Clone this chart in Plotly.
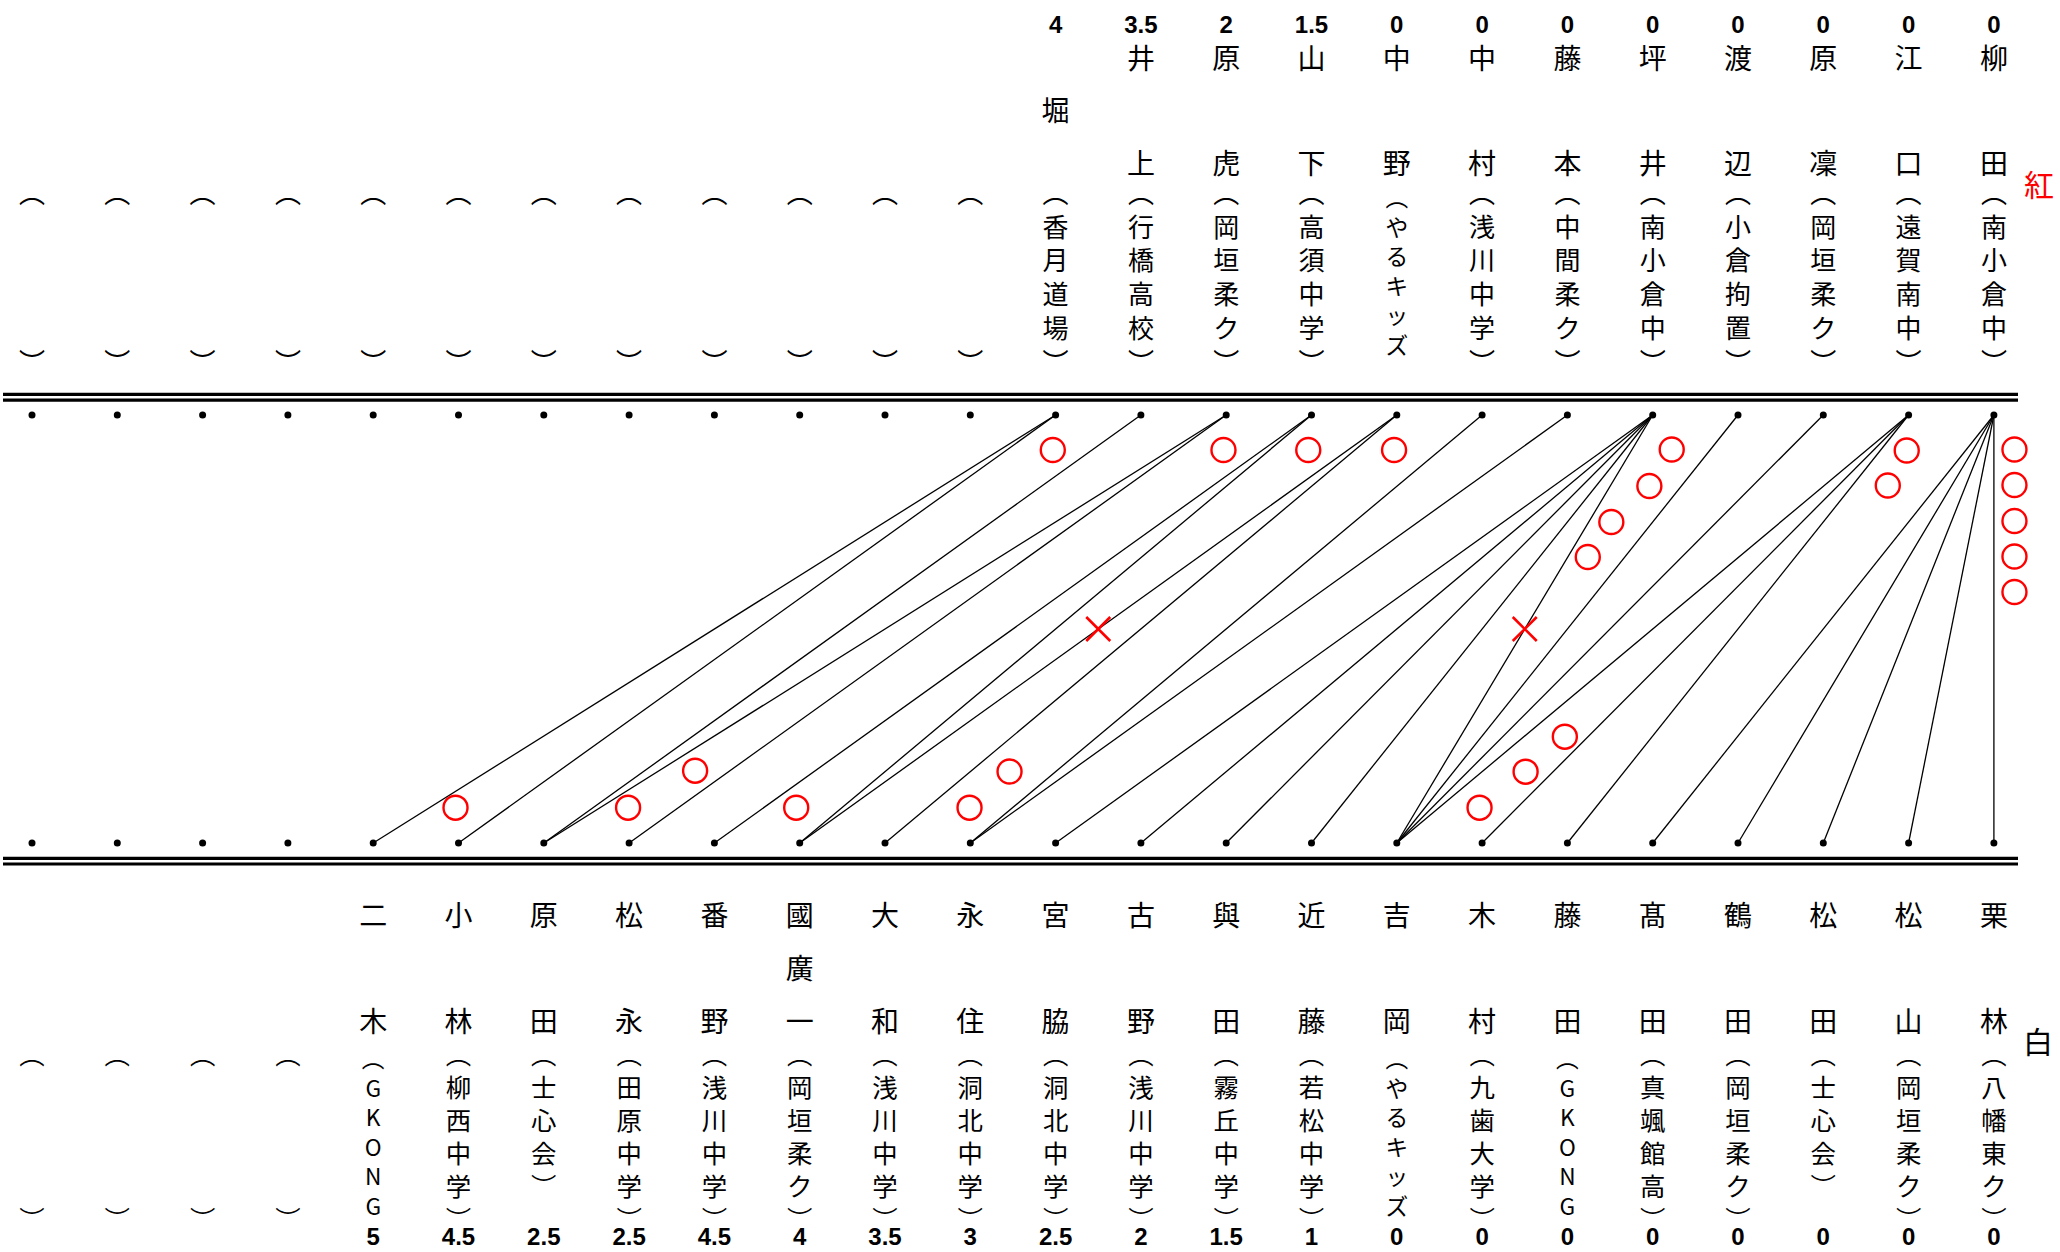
import plotly.graph_objects as go

# ---------------- data ----------------
top_names = [""] * 12 + ["堀", "井上", "原虎", "山下", "中野", "中村", "藤本", "坪井", "渡辺", "原凜", "江口", "柳田"]
top_clubs = [""] * 12 + ["香月道場", "行橋高校", "岡垣柔ク", "高須中学", "やるキッズ", "浅川中学", "中間柔ク",
                         "南小倉中", "小倉拘置", "岡垣柔ク", "遠賀南中", "南小倉中"]
top_scores = [None] * 12 + [4, 3.5, 2, 1.5, 0, 0, 0, 0, 0, 0, 0, 0]

bottom_names = [""] * 4 + ["二木", "小林", "原田", "松永", "番野", "國廣一", "大和", "永住", "宮脇", "古野", "與田",
                           "近藤", "吉岡", "木村", "藤田", "髙田", "鶴田", "松田", "松山", "栗林"]
bottom_clubs = [""] * 4 + ["GKONG", "柳西中学", "士心会", "田原中学", "浅川中学", "岡垣柔ク", "浅川中学", "洞北中学",
                           "洞北中学", "浅川中学", "霧丘中学", "若松中学", "やるキッズ", "九歯大学", "GKONG", "真颯館高",
                           "岡垣柔ク", "士心会", "岡垣柔ク", "八幡東ク"]
bottom_scores = [None] * 4 + [5, 4.5, 2.5, 2.5, 4.5, 4, 3.5, 3, 2.5, 2, 1.5, 1, 0, 0, 0, 0, 0, 0, 0, 0]

bout_top = ["堀", "堀", "井上", "原虎", "原虎", "山下", "山下", "中野", "中野", "中村", "藤本",
            "坪井", "坪井", "坪井", "坪井", "坪井", "渡辺", "原凜", "江口", "江口", "江口",
            "柳田", "柳田", "柳田", "柳田", "柳田"]
bout_bottom = ["二木", "小林", "原田", "原田", "松永", "番野", "國廣一", "國廣一", "大和", "永住", "永住",
               "宮脇", "古野", "與田", "近藤", "吉岡", "吉岡", "吉岡", "吉岡", "木村", "藤田",
               "髙田", "鶴田", "松田", "松山", "栗林"]
bout_result = ["", "", "", "", "", "", "", "draw", "", "", "",
               "", "", "", "", "draw", "", "", "", "", "",
               "", "", "", "", ""]

# winner marks (column position, vertical position)
win_x = [11.967, 13.968, 14.962, 15.968,
         19.223, 18.961, 18.515, 18.239,
         21.978, 21.756,
         23.241, 23.241, 23.241, 23.241, 23.241,
         4.965, 6.988, 7.774, 8.959, 10.991, 11.46, 16.97, 17.51, 17.97]
win_y = [450, 450, 450, 450,
         449.5, 486, 522, 557,
         450.5, 485.5,
         449.5, 485, 521, 556.5, 592,
         807.7, 807.7, 770.7, 807.7, 807.7, 771.5, 807.7, 771.7, 736.7]

# ---------------- layout constants ----------------
W, H = 2060, 1252
PX0, PXW = 32.0, 85.3          # pixel of column 0, pixels per column
TOP_ROW, BOT_ROW = 415, 843
CJK = "Noto Sans CJK JP"
NUM = "Liberation Sans"
RED = "#ff0000"
LS = 1.3                        # plotly line spacing (em)

ncol = len(top_names)
cols = list(range(ncol))

fig = go.Figure()

# bout lines
lx, ly = [], []
for t, b in zip(bout_top, bout_bottom):
    lx += [top_names.index(t), bottom_names.index(b), None]
    ly += [TOP_ROW, BOT_ROW, None]
fig.add_trace(go.Scatter(x=lx, y=ly, mode="lines", line=dict(color="black", width=1.3),
                         hoverinfo="skip", showlegend=False))

# player dots
fig.add_trace(go.Scatter(x=cols + cols, y=[TOP_ROW] * ncol + [BOT_ROW] * ncol, mode="markers",
                         marker=dict(color="black", size=7), hoverinfo="skip", showlegend=False))

# draws: x at the middle of the bout line
dx, dy = [], []
for t, b, r in zip(bout_top, bout_bottom, bout_result):
    if r == "draw":
        dx.append((top_names.index(t) + bottom_names.index(b)) / 2)
        dy.append((TOP_ROW + BOT_ROW) / 2)
fig.add_trace(go.Scatter(x=dx, y=dy, mode="markers",
                         marker=dict(symbol="x-thin-open", size=24, color=RED,
                                     line=dict(color=RED, width=2.6)),
                         hoverinfo="skip", showlegend=False))

# wins
fig.add_trace(go.Scatter(x=win_x, y=win_y, mode="markers",
                         marker=dict(symbol="circle-open", size=24, color=RED, line=dict(color=RED, width=2.4)),
                         hoverinfo="skip", showlegend=False))

# ---------------- texts ----------------
def name_slots(n, slots):
    if n == 1:
        return [slots[1]]
    if n == 2:
        return [slots[0], slots[2]]
    return slots[:n]


def add_side(names, clubs, scores, score_y, name_y, club_y0, fs_club, fs_long):
    nx, ny, nt = [], [], []
    cx, cy, ct, cf = [], [], [], []
    sx, sy, st = [], [], []
    for i in range(ncol):
        nm = names[i]
        for ch, yy in zip(nm, name_slots(len(nm), name_y)):
            nx.append(i); ny.append(yy); nt.append(ch)
        cl = clubs[i]
        if len(cl) >= 5:
            fs = fs_long
            lines = ["︵"] + list(cl)
        elif cl:
            fs = fs_club
            lines = ["︵"] + list(cl) + ["︶"]
        else:
            fs = fs_club
            lines = ["︵"] + ["\u3000"] * 4 + ["︶"]
        step = LS * fs
        y_first = club_y0 - step
        cx.append(i)
        cy.append(y_first + (len(lines) - 1) / 2 * step)
        ct.append("<br>".join(lines))
        cf.append(fs)
        if scores[i] is not None:
            sx.append(i); sy.append(score_y); st.append(f"{scores[i]:g}")
    fig.add_trace(go.Scatter(x=nx, y=ny, text=nt, mode="text", textposition="middle center",
                             textfont=dict(family=CJK, size=28, color="black"),
                             hoverinfo="skip", showlegend=False))
    fig.add_trace(go.Scatter(x=cx, y=cy, text=ct, mode="text", textposition="middle center",
                             textfont=dict(family=CJK, size=cf, color="black"),
                             hoverinfo="skip", showlegend=False))
    fig.add_trace(go.Scatter(x=sx, y=sy, text=st, mode="text", textposition="middle center",
                             textfont=dict(family=NUM, size=24, color="black", weight="bold"),
                             hoverinfo="skip", showlegend=False))


add_side(top_names, top_clubs, top_scores, 26.5, [62, 114, 167], 230, 26, 22.7)
add_side(bottom_names, bottom_clubs, bottom_scores, 1239, [919, 972, 1025], 1091, 25.4, 22.7)

# side labels
xr0 = -PX0 / PXW
xr1 = (W - PX0) / PXW
def px2x(p):
    return (p - PX0) / PXW

fig.add_annotation(x=px2x(2039), y=183, text="紅", showarrow=False,
                   font=dict(family=CJK, size=30, color=RED), xanchor="center", yanchor="middle")
fig.add_annotation(x=px2x(2038), y=1040, text="白", showarrow=False,
                   font=dict(family=CJK, size=30, color="black"), xanchor="center", yanchor="middle")

# double rules
for yy in (394.3, 400.2, 858.3, 864.0):
    fig.add_shape(type="line", x0=px2x(3), x1=px2x(2018), y0=yy, y1=yy,
                  line=dict(color="black", width=3.2), layer="below")

fig.update_layout(
    width=W, height=H, margin=dict(l=0, r=0, t=0, b=0),
    paper_bgcolor="white", plot_bgcolor="white",
    xaxis=dict(range=[xr0, xr1], visible=False, fixedrange=True),
    yaxis=dict(range=[H, 0], visible=False, fixedrange=True),
    showlegend=False,
)

fig.write_html("out.html", config={"displayModeBar": False, "staticPlot": True},
               post_script="document.body.style.margin='0';document.body.style.overflow='hidden';")
